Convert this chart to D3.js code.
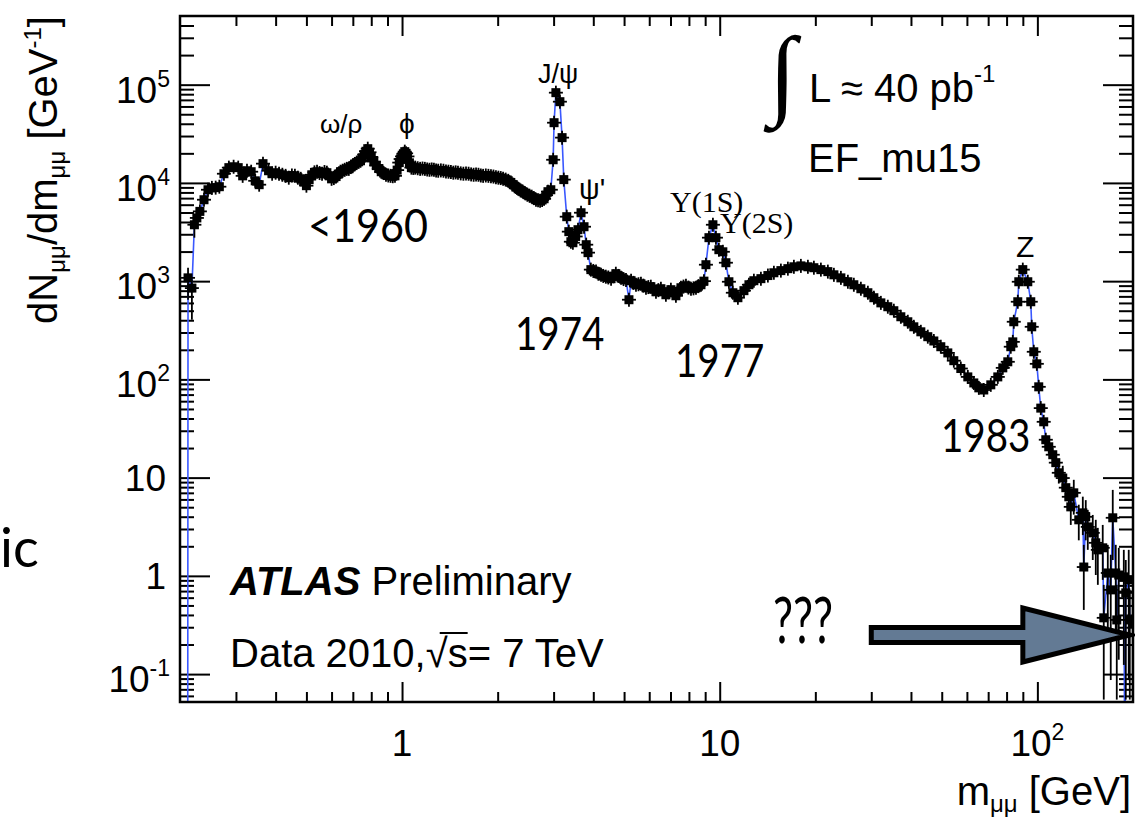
<!DOCTYPE html>
<html lang="en">
<head>
<meta charset="UTF-8">
<title>dimuon spectrum</title>
<script src="https://d3js.org/d3.v7.min.js"></script>
<style>
    body { margin: 0; background: #fff; }
    svg text { font-family: "Liberation Sans", Arial, Helvetica, sans-serif; fill: #000; }
    .serif { font-family: "Liberation Serif", "Times New Roman", serif; }
    .hand { font-family: Lato, "Open Sans", sans-serif; }
</style>
</head>
<body>
<svg id="plot" width="1135" height="817"></svg>

<script>
    // dimuon invariant mass, GeV
    const mass = [
        0.212, 0.218, 0.222, 0.226, 0.231, 0.238, 0.245, 0.252, 0.259, 0.266,
        0.275, 0.285, 0.295, 0.305, 0.315, 0.325, 0.335, 0.345, 0.355, 0.365,
        0.380, 0.390, 0.400, 0.41, 0.42, 0.43, 0.44, 0.45, 0.46, 0.47,
        0.48, 0.49, 0.50, 0.51, 0.52, 0.53, 0.54, 0.55, 0.56, 0.57,
        0.58, 0.59, 0.60, 0.61, 0.62, 0.63, 0.64, 0.65, 0.66, 0.67,
        0.68, 0.69, 0.70, 0.71, 0.72, 0.73, 0.74, 0.75, 0.76, 0.77,
        0.78, 0.79, 0.80, 0.815, 0.83, 0.845, 0.86, 0.875, 0.89, 0.905,
        0.92, 0.935, 0.95, 0.965, 0.98, 0.99, 1.00, 1.01, 1.02, 1.03,
        1.04, 1.055, 1.07, 1.085, 1.10, 1.12, 1.14, 1.16, 1.18, 1.20,
        1.22, 1.24, 1.26, 1.28, 1.30, 1.325, 1.35, 1.375, 1.40, 1.425,
        1.45, 1.475, 1.50, 1.53, 1.56, 1.59, 1.62, 1.65, 1.68, 1.71,
        1.74, 1.77, 1.80, 1.835, 1.87, 1.905, 1.94, 1.975, 2.01, 2.045,
        2.08, 2.12, 2.16, 2.20, 2.24, 2.28, 2.32, 2.36, 2.40, 2.44,
        2.48, 2.52, 2.56, 2.60, 2.64, 2.68, 2.72, 2.76, 2.80, 2.84,
        2.88, 2.94, 2.99, 3.01, 3.05, 3.14, 3.19, 3.23, 3.30, 3.35,
        3.40, 3.45, 3.52, 3.58, 3.66, 3.74, 3.80, 3.85, 3.93, 4.00,
        4.08, 4.15, 4.23, 4.30, 4.38, 4.46, 4.55, 4.63, 4.71, 4.80,
        4.89, 4.98, 5.07, 5.18, 5.26, 5.35, 5.45, 5.55, 5.65, 5.75,
        5.86, 5.96, 6.07, 6.18, 6.30, 6.41, 6.53, 6.65, 6.77, 6.90,
        7.02, 7.15, 7.28, 7.41, 7.55, 7.69, 7.83, 7.97, 8.12, 8.27,
        8.42, 8.57, 8.73, 8.92, 9.05, 9.25, 9.52, 9.73, 9.94, 10.23,
        10.46, 10.69, 11.00, 11.41, 11.92, 12.36, 12.81, 13.48, 14.18, 14.81,
        15.58, 16.39, 17.12, 18.01, 18.95, 19.79, 20.82, 21.90, 22.88, 24.07,
        25.32, 26.44, 27.82, 29.27, 30.57, 32.16, 33.82, 35.33, 37.17, 39.10,
        40.84, 42.97, 45.19, 47.21, 49.66, 52.25, 54.57, 57.41, 60.40, 63.08,
        65.41, 67.81, 71.35, 75.06, 77.83, 80.70, 82.47, 83.68, 84.28, 86.77,
        87.40, 89.97, 93.29, 95.33, 96.00, 97.43, 99.60, 101.0, 102.5, 104.7,
        106.3, 108.6, 111.8, 114.3, 116.8, 120.2, 122.9, 125.6, 127.4, 130.2,
        135.0, 139.0, 140.0, 142.0, 144.1, 149.4, 152.7, 155.0, 160.6, 161.8,
        166.6, 170.2, 172.7, 176.5, 177.8, 180.4, 187.1, 189.8, 193.9, 195.4,
        199.6
    ];

    // dN/dm per bin, 1/GeV
    const dndm = [
        1080, 850, 3750, 4400, 5130, 6740, 8520, 8900, 8950, 9150,
        12400, 14300, 14600, 14300, 11800, 13300, 13000, 10500, 9590, 15700,
        13300, 12400, 12700, 12400, 12100, 11800, 11300, 11900, 11800, 11300,
        11000, 10300, 9370, 10800, 12100, 12800, 13000, 12600, 12400, 12900,
        12700, 11800, 11000, 11200, 11600, 12300, 13000, 13300, 13600, 13900,
        13900, 14500, 15000, 15600, 16100, 16400, 16800, 18000, 19400, 21000,
        22300, 20500, 18400, 16500, 15000, 14000, 13000, 12600, 12100, 11900,
        11800, 11700, 11800, 13500, 16100, 17500, 18600, 19800, 20800, 20000,
        18600, 16000, 14300, 14200, 14300, 14100, 13900, 14000, 13900, 13700,
        13600, 13700, 13600, 13400, 13300, 13400, 13300, 13100, 13000, 12900,
        12700, 12800, 12700, 12500, 12400, 12500, 12400, 12200, 12100, 12200,
        12100, 11900, 11800, 11900, 11800, 11700, 11600, 11400, 11300, 11200,
        11000, 10800, 10500, 10100, 9590, 9100, 8730, 8400, 8140, 7850,
        7580, 7400, 7240, 7000, 6740, 6650, 6580, 6700, 6900, 7500,
        8140, 8520, 17200, 41000, 82900, 67100, 28900, 10800, 4530, 3190,
        2520, 2460, 2850, 3340, 4970, 3580, 2350, 1950, 1310, 1270,
        1250, 1190, 1160, 1130, 1110, 1090, 1060, 1120, 1190, 1130,
        1080, 1050, 1030, 647, 1010, 960, 919, 930, 940, 900,
        857, 870, 878, 830, 780, 810, 837, 780, 727, 770,
        818, 760, 710, 780, 857, 880, 898, 860, 837, 845,
        857, 890, 919, 1000, 1470, 2770, 3750, 2770, 2090, 1990,
        1540, 986, 762, 678, 800, 919, 1010, 1060, 1140, 1217,
        1280, 1340, 1400, 1430, 1400, 1370, 1310, 1250, 1160, 1080,
        986, 919, 837, 762, 678, 601, 549, 500, 434, 386,
        343, 305, 272, 246, 215, 186, 155, 129, 106, 92,
        82, 78, 88, 106, 131, 151, 215, 241, 386, 617,
        986, 1310, 986, 617, 343, 191, 144, 84, 51, 37,
        24.3, 20.6, 17.1, 14.2, 11.2, 9.9, 7.9, 6.38, 5.04, 7.0,
        3.72, 4.38, 1.23, 3.99, 3.15, 2.74, 2.17, 1.84, 1.93, 0.374,
        1.07, 0.72, 3.9, 1.07, 0.356, 1.02, 0.977, 0.671, 0.911, 0.356,
        0.332
    ];

    // bins whose statistical error is larger than the marker
    const errMass = [0.212, 0.218, 0.222, 116.8, 120.2, 122.9, 125.6, 127.4, 130.2, 135.0,
        139.0, 140.0, 142.0, 144.1, 149.4, 152.7, 155.0, 160.6, 161.8, 166.6,
        170.2, 172.7, 176.5, 177.8, 180.4, 187.1, 189.8, 193.9, 195.4, 199.6];
    const errLo = [647, 405, 2770, 8.7, 7.5, 5.9, 4.7, 3.3, 4.2, 2.3,
        2.6, 0.45, 2.3, 1.84, 1.45, 1.02, 0.81, 0.91, 0.055, 0.22,
        0.087, 1.45, 0.22, 0.055, 0.14, 0.124, 0.055, 0.087, 0.055, 0.055];
    const errHi = [1370, 1033, 4750, 14.5, 13.2, 10.7, 8.4, 6.7, 9.5, 5.3,
        6.4, 2.07, 5.9, 4.7, 4.17, 3.72, 3.08, 3.3, 0.81, 2.07,
        1.64, 7.5, 2.07, 0.81, 1.93, 1.84, 1.45, 1.84, 0.72, 0.72];

    // masses where the simulated line drops to zero (threshold, empty bin)
    const curveZeros = [0.2115, 188.5];

    const yTickExp = [-1, 0, 1, 2, 3, 4, 5];
    const xTickLabels = [
        {v: 1, base: "1", sup: ""},
        {v: 10, base: "10", sup: ""},
        {v: 100, base: "10", sup: "2"}
    ];

    const W = 1135, H = 817;
    const frame = {left: 180, right: 1133, top: 16, bottom: 702};

    const x = d3.scaleLog().domain([0.2, 200]).range([frame.left, frame.right]);
    const y = d3.scaleLog().domain([0.052, 5e5]).range([frame.bottom, frame.top]);

    const svg = d3.select("#plot");
    svg.append("rect").attr("width", W).attr("height", H).attr("fill", "#fff");

    svg.append("clipPath").attr("id", "inside").append("rect")
        .attr("x", frame.left).attr("y", frame.top)
        .attr("width", frame.right - frame.left)
        .attr("height", frame.bottom - frame.top);

    // ---- ticks on all four sides, pointing inwards
    const isDecade = v => Math.abs(Math.log10(v) - Math.round(Math.log10(v))) < 1e-6;
    const xt = x.ticks().filter(v => v > 0.2001 && v < 199.9);
    const yt = y.ticks().filter(v => v > 0.0521 && v < 4.99e5);

    function ticks(axis, scale, values, len, tr) {
        svg.append("g")
            .attr("transform", tr)
            .call(axis(scale).tickValues(values).tickSizeInner(-len).tickSizeOuter(0).tickFormat(""))
            .call(g => g.select(".domain").remove())
            .call(g => g.selectAll("line").attr("stroke", "#000").attr("stroke-width", 2));
    }
    ticks(d3.axisBottom, x, xt.filter(v => !isDecade(v)), 10, `translate(0,${frame.bottom})`);
    ticks(d3.axisBottom, x, xt.filter(isDecade), 20, `translate(0,${frame.bottom})`);
    ticks(d3.axisTop, x, xt.filter(v => !isDecade(v)), 10, `translate(0,${frame.top})`);
    ticks(d3.axisTop, x, xt.filter(isDecade), 20, `translate(0,${frame.top})`);
    ticks(d3.axisLeft, y, yt.filter(v => !isDecade(v)), 14, `translate(${frame.left},0)`);
    ticks(d3.axisLeft, y, yt.filter(isDecade), 30, `translate(${frame.left},0)`);
    ticks(d3.axisRight, y, yt.filter(v => !isDecade(v)), 14, `translate(${frame.right},0)`);
    ticks(d3.axisRight, y, yt.filter(isDecade), 30, `translate(${frame.right},0)`);

    // ---- tick labels
    const yl = svg.append("g").attr("font-size", 37);
    yTickExp.forEach(e => {
        const v = Math.pow(10, e);
        const t = yl.append("text").attr("text-anchor", "end");
        if (e === 0 || e === 1) {
            t.attr("x", 166).attr("y", y(v) + 13).text(e === 0 ? "1" : "10");
        } else {
            t.attr("x", 170).attr("y", y(v) + 18);
            t.append("tspan").text("10");
            t.append("tspan").attr("dy", -16).attr("font-size", 23).text(String(e));
        }
    });

    const xl = svg.append("g").attr("font-size", 37);
    xTickLabels.forEach(d => {
        const t = xl.append("text").attr("text-anchor", "middle")
            .attr("x", x(d.v)).attr("y", 756);
        t.append("tspan").text(d.base);
        if (d.sup) t.append("tspan").attr("dy", -16).attr("font-size", 23).text(d.sup);
    });

    // ---- axis titles
    const xTitle = svg.append("text").attr("text-anchor", "end")
        .attr("x", 1131).attr("y", 805).attr("font-size", 40);
    xTitle.append("tspan").text("m");
    xTitle.append("tspan").attr("font-size", 24).attr("dy", 7).text("μμ");
    xTitle.append("tspan").attr("dy", -7).text(" [GeV]");

    const yTitle = svg.append("text").attr("text-anchor", "end")
        .attr("transform", "translate(57,16) rotate(-90)").attr("font-size", 40);
    yTitle.append("tspan").text("dN");
    yTitle.append("tspan").attr("font-size", 24).attr("dy", 8).text("μμ");
    yTitle.append("tspan").attr("dy", -8).text("/dm");
    yTitle.append("tspan").attr("font-size", 24).attr("dy", 8).text("μμ");
    yTitle.append("tspan").attr("dy", -8).text(" [GeV");
    yTitle.append("tspan").attr("font-size", 24).attr("dy", -16).text("-1");
    yTitle.append("tspan").attr("dy", 16).text("]");

    // ---- data
    const errs = new Map(errMass.map((m, i) => [m, [errLo[i], errHi[i]]]));
    const pts = mass.map((m, i) => ({m: m, v: dndm[i], e: errs.get(m)}));

    const plot = svg.append("g").attr("clip-path", "url(#inside)");

    const curve = pts.map(d => ({m: d.m, v: d.v}))
        .concat(curveZeros.map(m => ({m: m, v: 0.01})))
        .sort((a, b) => a.m - b.m);
    plot.append("path")
        .datum(curve)
        .attr("fill", "none")
        .attr("stroke", "#3a58ff")
        .attr("stroke-width", 1.6)
        .attr("d", d3.line().x(d => x(d.m)).y(d => y(d.v)));

    const mk = plot.append("g").selectAll("g").data(pts).join("g")
        .attr("transform", d => `translate(${x(d.m)},${y(d.v)})`);
    mk.append("line")
        .attr("x1", 0).attr("x2", 0)
        .attr("y1", d => d.e ? y(d.e[1]) - y(d.v) : -7)
        .attr("y2", d => d.e ? y(d.e[0]) - y(d.v) : 7)
        .attr("stroke", "#000").attr("stroke-width", 1.8);
    mk.append("line")
        .attr("x1", -7).attr("x2", 7).attr("y1", 0).attr("y2", 0)
        .attr("stroke", "#000").attr("stroke-width", 1.8);
    mk.append("rect")
        .attr("x", -4.5).attr("y", -4.5).attr("width", 9).attr("height", 9)
        .attr("fill", "#000");

    // ---- frame
    svg.append("rect")
        .attr("x", frame.left).attr("y", frame.top)
        .attr("width", frame.right - frame.left).attr("height", frame.bottom - frame.top)
        .attr("fill", "none").attr("stroke", "#000").attr("stroke-width", 2.5);

    // ---- resonance labels
    const peaks = svg.append("g").attr("font-size", 26);
    peaks.append("text").attr("x", 320).attr("y", 133).text("ω/ρ");
    peaks.append("text").attr("x", 399).attr("y", 133).attr("font-size", 28).text("ϕ");
    peaks.append("text").attr("x", 538).attr("y", 83).attr("font-size", 27).text("J/ψ");
    peaks.append("text").attr("x", 579).attr("y", 199).attr("font-size", 29).text("ψ'");
    peaks.append("text").attr("class", "serif").attr("font-size", 30).attr("x", 670).attr("y", 212).text("Υ(1S)");
    peaks.append("text").attr("class", "serif").attr("font-size", 30).attr("x", 720).attr("y", 233).text("Υ(2S)");
    peaks.append("text").attr("font-size", 30).attr("x", 1016).attr("y", 257).text("Z");

    // ---- luminosity and trigger
    svg.append("text").attr("class", "serif").attr("font-size", 100)
        .attr("x", 769).attr("y", 106).text("∫");
    const lumi = svg.append("text").attr("x", 809).attr("y", 102).attr("font-size", 40);
    lumi.append("tspan").text("L ≈ 40 pb");
    lumi.append("tspan").attr("dy", -20).attr("font-size", 24).text("-1");
    svg.append("text").attr("x", 808).attr("y", 172).attr("font-size", 40).text("EF_mu15");

    // ---- experiment label
    const atlas = svg.append("text").attr("x", 230).attr("y", 595).attr("font-size", 40);
    atlas.append("tspan").attr("font-weight", "bold").attr("font-style", "italic").text("ATLAS");
    atlas.append("tspan").text("  Preliminary");

    const data = svg.append("text").attr("x", 230).attr("y", 667).attr("font-size", 40)
        .text("Data 2010,√s= 7 TeV");
    {
        const n = data.node();
        const s = "Data 2010,√s= 7 TeV";
        const i = s.indexOf("√");
        const a = n.getStartPositionOfChar(i);
        const b = n.getEndPositionOfChar(i + 1);
        const top = n.getExtentOfChar(i).y;
        svg.append("line")
            .attr("x1", a.x + 14).attr("x2", b.x)
            .attr("y1", top + 2).attr("y2", top + 2)
            .attr("stroke", "#000").attr("stroke-width", 2);
    }

    // ---- slide annotations
    const notes = [
        {t: "<1960", x: 308, y: 242, s: 47, k: 0.88},
        {t: "1974", x: 515, y: 350, s: 47, k: 0.82},
        {t: "1977", x: 675, y: 377, s: 47, k: 0.82},
        {t: "1983", x: 941, y: 452, s: 47, k: 0.82},
        {t: "ic", x: 0, y: 567, s: 54, k: 1},
        {t: "???", x: 773, y: 643, s: 64, k: 0.7}
    ];
    svg.append("g").selectAll("text").data(notes).join("text")
        .attr("class", "hand")
        .attr("font-size", d => d.s)
        .attr("transform", d => `translate(${d.x},${d.y}) scale(${d.k},1)`)
        .text(d => d.t);

    // arrow pointing at the high-mass end
    const ay = y(0.25), x0 = x(30), xb = x(90), xtip = x(200) - 3;
    const arrow = d3.path();
    arrow.moveTo(x0, ay - 7.5);
    arrow.lineTo(xb, ay - 7.5);
    arrow.lineTo(xb, ay - 27);
    arrow.lineTo(xtip, ay);
    arrow.lineTo(xb, ay + 27);
    arrow.lineTo(xb, ay + 7.5);
    arrow.lineTo(x0, ay + 7.5);
    arrow.closePath();
    svg.append("path").attr("d", arrow.toString())
        .attr("fill", "#637a94").attr("stroke", "#000")
        .attr("stroke-width", 5).attr("stroke-linejoin", "miter").attr("stroke-miterlimit", 10);
</script>
</body>
</html>
